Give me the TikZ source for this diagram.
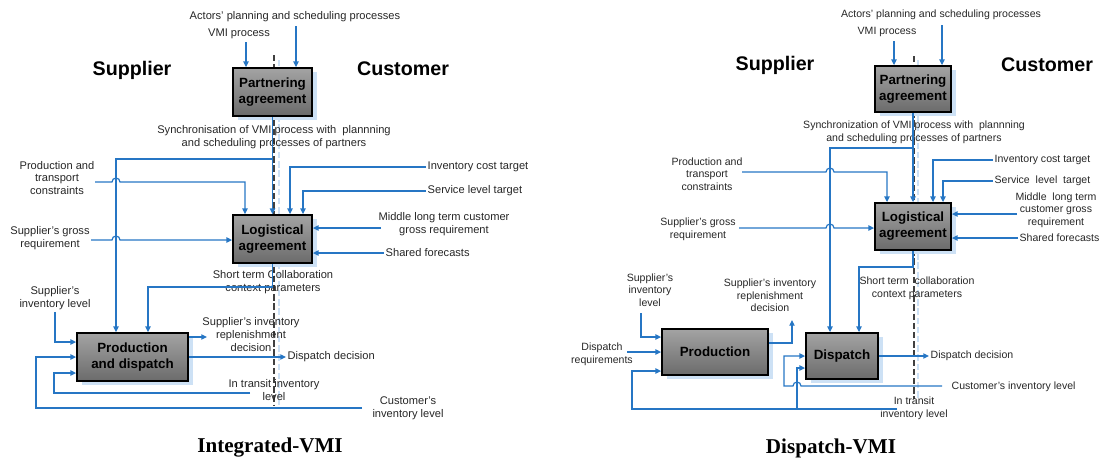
\documentclass[tikz,border=0pt]{standalone}
\usepackage{fontspec}
\setmainfont{Liberation Sans}
\newfontfamily\titlefont{Liberation Serif}
\usepackage{xcolor}
\usetikzlibrary{arrows.meta}
\usetikzlibrary{calc}
\usetikzlibrary{shadows}

\definecolor{vmiblue}{RGB}{38,118,196}
\definecolor{vmishadow}{RGB}{205,225,245}

\tikzset{
  lbl/.style={font=\fontsize{7.9}{9.2}\selectfont, text=black!85, align=center, inner sep=1pt},
  side/.style={font=\fontsize{14}{16}\selectfont\bfseries, inner sep=1pt},
  ttl/.style={font=\titlefont\fontsize{15}{18}\selectfont\bfseries, inner sep=1pt},
  vmibox/.style={draw=black, line width=1.3pt, top color=black!36, bottom color=black!58,
    font=\fontsize{9.5}{11.4}\selectfont\bfseries, align=center, inner sep=1pt,
    drop shadow={shadow xshift=1.2mm, shadow yshift=-1mm, fill=vmishadow, opacity=1}},
  flow/.style={draw=vmiblue, line width=0.85pt, -{Triangle[length=1.4mm,width=1.3mm]}},
  divider/.style={black!75, line width=1.3pt, dash pattern=on 1.6mm off 0.7mm},
  dividershadow/.style={vmishadow, line width=1pt, dash pattern=on 1.6mm off 0.7mm}
}

\begin{document}
\begin{tikzpicture}[x=0.25mm, y=-0.25mm]
  \useasboundingbox (0,0) rectangle (1104,461);

  % Integrated-VMI
  \draw[dividershadow] (279,60) -- (279,405);
  \draw[divider] (274,55) -- (274,405);

  \node[vmibox, minimum width=19.75mm, minimum height=12mm] (pa1) at (272.5,92) {Partnering\\agreement};
  \node[vmibox, minimum width=19.75mm, minimum height=12mm] (la1) at (272.5,239) {Logistical\\agreement};
  \node[vmibox, minimum width=27.75mm, minimum height=12mm] (pd1) at (132.5,357) {Production\\and dispatch};

  \node[side] (sup1) at (132,70) {Supplier};
  \node[side] (cus1) at (403,69) {Customer};
  \node[lbl] (act1) at (295,17) {Actors' planning and scheduling processes};
  \node[lbl] (vmi1) at (239,34) {VMI process};
  \node[lbl] (syn1) at (274,137.5) {Synchronisation of VMI process with\ \ plannning\\and scheduling processes of partners};
  \node[lbl] (ptc1) at (57,178) {Production and\\transport\\constraints};
  \node[lbl, anchor=west] (ict1) at (426,167) {Inventory cost target};
  \node[lbl, anchor=west] (slt1) at (426,191) {Service level target};
  \node[lbl] (mlt1) at (444,224.5) {Middle long term customer\\gross requirement};
  \node[lbl, anchor=west] (sf1) at (384,253) {Shared forecasts};
  \node[lbl] (sgr1) at (50,238) {Supplier's gross\\requirement};
  \node[lbl] (stc1) at (273,282.5) {Short term Collaboration\\context parameters};
  \node[lbl] (sil1) at (55,298.5) {Supplier's\\inventory level};
  \node[lbl] (sir1) at (251,334.5) {Supplier's inventory\\replenishment\\decision};
  \node[lbl, anchor=west] (dd1) at (286,357) {Dispatch decision};
  \node[lbl] (itl1) at (274,390) {In transit inventory\\level};
  \node[lbl] (cil1) at (408,408.5) {Customer's\\inventory level};
  \node[ttl] (ttl1) at (270,448) {Integrated-VMI};

  \coordinate (v1) at (246,42);
  \coordinate (a1) at (296,26);
  \coordinate (j1) at (272.5,159);
  \coordinate (p1) at (95,182);
  \coordinate (m1) at (381,228);
  \coordinate (g1) at (91,240);
  \coordinate (r1) at (207,337);
  \coordinate (t1) at (250,393);
  \coordinate (c1) at (362,408);

  \draw[flow] (v1) -- (v1 |- pa1.north);
  \draw[flow] (a1) -- (a1 |- pa1.north);
  \draw[flow] (pa1.south) -- (la1.north);
  \draw[flow] (j1) -| ($(pd1.north)+(-16.5,0)$);
  \draw[flow] (p1) -- ++(17,0) arc[start angle=180, end angle=0, radius=1mm] -| ($(la1.north)+(-27.5,0)$);
  \draw[flow] (ict1.west) -| ($(la1.north)+(17.5,0)$);
  \draw[flow] (slt1.west) -| ($(la1.north)+(30.5,0)$);
  \draw[flow] (m1) -- (m1 -| la1.east);
  \draw[flow] (sf1.west) -- (sf1.west -| la1.east);
  \draw[flow] (g1) -- ++(21,0) arc[start angle=180, end angle=0, radius=1mm] -- (g1 -| la1.west);
  \draw[flow] (la1.south) -- ++(0,23) -| ($(pd1.north)+(15.5,0)$);
  \draw[flow] (sil1.south) |- ($(pd1.west)+(0,-15)$);
  \draw[flow] (r1 -| pd1.east) -- (r1);
  \draw[flow] (pd1.east) -- (dd1.west);
  \draw[flow] (t1) -- ++(-196,0) |- ($(pd1.west)+(0,16)$);
  \draw[flow] (c1) -- ++(-326,0) |- (pd1.west);

  % Dispatch-VMI
  \begin{scope}[lbl/.append style={font=\fontsize{7.5}{9}\selectfont}]
  \draw[dividershadow] (918,60) -- (918,399);
  \draw[divider] (914,56) -- (914,399);

  \node[vmibox, minimum width=19mm, minimum height=11.5mm] (pa2) at (913,89) {Partnering\\agreement};
  \node[vmibox, minimum width=19mm, minimum height=11.75mm] (la2) at (913,226.5) {Logistical\\agreement};
  \node[vmibox, minimum width=26.5mm, minimum height=11.5mm] (pr2) at (715,352) {Production};
  \node[vmibox, minimum width=18mm, minimum height=11.5mm] (ds2) at (842,356) {Dispatch};

  \node[side] (sup2) at (775,65) {Supplier};
  \node[side] (cus2) at (1047,65) {Customer};
  \node[lbl] (act2) at (941,15) {Actors' planning and scheduling processes};
  \node[lbl] (vmi2) at (887,32) {VMI process};
  \node[lbl] (syn2) at (914,132) {Synchronization of VMI process with\ \ plannning\\and scheduling processes of partners};
  \node[lbl] (ptc2) at (707,174) {Production and\\transport\\constraints};
  \node[lbl, anchor=west] (ict2) at (993,160) {Inventory cost target};
  \node[lbl, anchor=west] (slt2) at (993,181) {Service\ \ level\ \ target};
  \node[lbl] (mlt2) at (1056,210) {Middle\ \ long term\\customer gross\\requirement};
  \node[lbl, anchor=west] (sf2) at (1018,238) {Shared forecasts};
  \node[lbl] (sgr2) at (698,229.5) {Supplier's gross\\requirement};
  \node[lbl] (stc2) at (917,288) {Short term\ \ collaboration\\context parameters};
  \node[lbl] (sil2) at (650,290) {Supplier's\\inventory\\level};
  \node[lbl] (sir2) at (770,295.5) {Supplier's inventory\\replenishment\\decision};
  \node[lbl] (dr2) at (602,354.5) {Dispatch\\requirements};
  \node[lbl, anchor=west] (dd2) at (929,356) {Dispatch decision};
  \node[lbl, anchor=west] (cil2) at (950,387) {Customer's inventory level};
  \node[lbl] (itl2) at (914,408.5) {In transit\\inventory level};
  \node[ttl] (ttl2) at (831,448) {Dispatch-VMI};

  \coordinate (v2) at (894,41);
  \coordinate (a2) at (942,25);
  \coordinate (j2) at (913,148);
  \coordinate (p2) at (742,172);
  \coordinate (m2) at (1017,214);
  \coordinate (g2) at (739,228);
  \coordinate (s2) at (641,313);
  \coordinate (d2) at (627,352);
  \coordinate (r2) at (792,320);
  \coordinate (t2) at (897,409);
  \coordinate (b2) at (797,409);
  \coordinate (c2) at (942,386);

  \draw[flow] (v2) -- (v2 |- pa2.north);
  \draw[flow] (a2) -- (a2 |- pa2.north);
  \draw[flow] (pa2.south) -- (la2.north);
  \draw[flow] (j2) -| ($(ds2.north)+(-12,0)$);
  \draw[flow] (p2) -- ++(84,0) arc[start angle=180, end angle=0, radius=1mm] -| ($(la2.north)+(-26,0)$);
  \draw[flow] (ict2.west) -| ($(la2.north)+(20,0)$);
  \draw[flow] (slt2.west) -| ($(la2.north)+(30,0)$);
  \draw[flow] (m2) -- (m2 -| la2.east);
  \draw[flow] (sf2.west) -- (sf2.west -| la2.east);
  \draw[flow] (g2) -- ++(87,0) arc[start angle=180, end angle=0, radius=1mm] -- (g2 -| la2.west);
  \draw[flow] (la2.south) -- ++(0,16) -| ($(ds2.north)+(17,0)$);
  \draw[flow] (s2) |- ($(pr2.west)+(0,-15)$);
  \draw[flow] (d2) -- (d2 -| pr2.west);
  \draw[flow] ($(pr2.east)+(0,-9)$) -| (r2);
  \draw[flow] (ds2.east) -- (dd2.west);
  \draw[flow] (t2) -- ++(-265,0) |- ($(pr2.west)+(0,19)$);
  \draw[flow] (b2) |- ($(ds2.west)+(0,12)$);
  \draw[flow] (c2) -- ++(-141,0) arc[start angle=0, end angle=180, radius=1mm] -- ++(-9,0) |- (ds2.west);
  \end{scope}
\end{tikzpicture}
\end{document}
